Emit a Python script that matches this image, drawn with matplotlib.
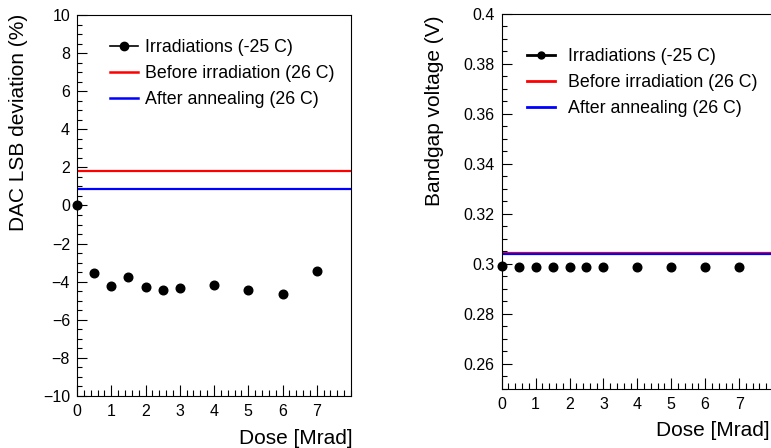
import matplotlib
matplotlib.use('Agg')
import matplotlib.pyplot as plt
from matplotlib.lines import Line2D
from matplotlib.ticker import MultipleLocator, FuncFormatter

plt.rcParams['font.family'] = ['Liberation Sans', 'DejaVu Sans']

# dose points [Mrad]
dose = [0, 0.5, 1, 1.5, 2, 2.5, 3, 4, 5, 6, 7]

# DAC LSB deviation (%)
dac_dev = [0.0, -3.56, -4.21, -3.77, -4.28, -4.42, -4.33, -4.19, -4.45, -4.65, -3.42]
dac_before = 1.83
dac_after = 0.88

# bandgap voltage (V)
bg_volt = [0.2993, 0.2989, 0.2989, 0.2989, 0.2989, 0.2989, 0.2989,
           0.2989, 0.2989, 0.2989, 0.2988]
bg_before = 0.3045
bg_after = 0.3040

labels = ['Irradiations (-25 C)', 'Before irradiation (26 C)', 'After annealing (26 C)']

fig = plt.figure(figsize=(7.71, 4.48), dpi=100)
ax1 = fig.add_axes([0.0999, 0.1161, 0.3554, 0.8504])
ax2 = fig.add_axes([0.6507, 0.1317, 0.3519, 0.8371])


def style(ax, ymin, ymax, ymaj, ymin_step):
    ax.set_xlim(0, 8)
    ax.set_ylim(ymin, ymax)
    ax.set_xticks(range(8))
    ax.xaxis.set_minor_locator(MultipleLocator(0.2))
    ax.yaxis.set_major_locator(MultipleLocator(ymaj))
    ax.yaxis.set_minor_locator(MultipleLocator(ymin_step))
    ax.tick_params(which='both', direction='in', top=False, right=False,
                   width=0.8, labelsize=11.5)
    ax.tick_params(axis='x', which='major', length=8, pad=6)
    ax.tick_params(axis='x', which='minor', length=4)
    ax.tick_params(axis='y', which='major', length=7, pad=5)
    ax.tick_params(axis='y', which='minor', length=3.5)
    for s in ax.spines.values():
        s.set_linewidth(0.8)


style(ax1, -10, 10, 2, 0.5)
style(ax2, 0.25, 0.4, 0.02, 0.005)
ax2.yaxis.set_major_formatter(FuncFormatter(lambda v, p: '%g' % round(v, 4)))

for ax, y, yb, ya in [(ax1, dac_dev, dac_before, dac_after),
                      (ax2, bg_volt, bg_before, bg_after)]:
    ax.axhline(yb, color='#ff0000', lw=1.6, zorder=2)
    ax.axhline(ya, color='#0000ff', lw=1.6, zorder=2)
    ax.plot(dose, y, 'o', color='black', ms=6.2, clip_on=False, zorder=3)

ax1.set_ylabel('DAC LSB deviation (%)', fontsize=15, loc='top')
ax1.yaxis.set_label_coords(-0.179, 1.003)
ax2.set_ylabel('Bandgap voltage (V)', fontsize=15, loc='top')
ax2.yaxis.set_label_coords(-0.212, 0.997)
ax1.set_xlabel('Dose [Mrad]', fontsize=15, loc='right')
ax1.xaxis.set_label_coords(1.007, -0.087)
ax2.set_xlabel('Dose [Mrad]', fontsize=15, loc='right')
ax2.xaxis.set_label_coords(0.989, -0.085)

handles = [Line2D([], [], color='black', lw=1.2, marker='o', ms=6),
           Line2D([], [], color='#ff0000', lw=1.8),
           Line2D([], [], color='#0000ff', lw=1.8)]
ax1.legend(handles, labels, loc='upper left', bbox_to_anchor=(0.12, 0.936),
           frameon=False, fontsize=12.8, borderpad=0, borderaxespad=0,
           handlelength=1.6, handletextpad=0.4, labelspacing=0.5)
handles2 = [Line2D([], [], color='black', lw=2, marker='o', ms=5),
            Line2D([], [], color='#ff0000', lw=2),
            Line2D([], [], color='#0000ff', lw=2)]
ax2.legend(handles2, labels, loc='upper left', bbox_to_anchor=(0.092, 0.909),
           frameon=False, fontsize=12.8, borderpad=0, borderaxespad=0,
           handlelength=1.6, handletextpad=0.75, labelspacing=0.5)

fig.savefig('out.png', dpi=100)
